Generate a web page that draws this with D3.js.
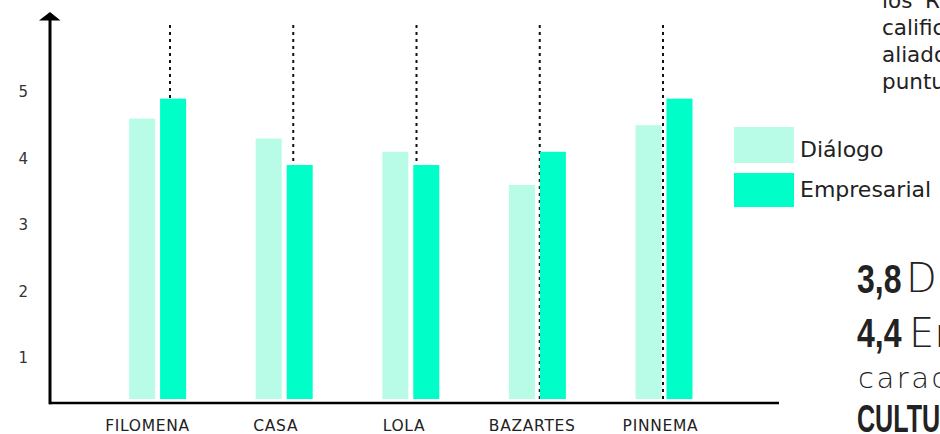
<!DOCTYPE html>
<html>
<head>
<meta charset="utf-8">
<script src="https://cdn.jsdelivr.net/npm/d3@7"></script>
<style>
  html, body { margin: 0; padding: 0; background: #ffffff; }
  svg { display: block; }
</style>
</head>
<body>
<svg id="chart" width="940" height="434"></svg>
<script>
// ---- data ----
const categories = ["FILOMENA", "CASA", "LOLA", "BAZARTES", "PINNEMA"];
const dialogo = [4.6, 4.3, 4.1, 3.6, 4.5];
const empresarial = [4.9, 3.9, 3.9, 4.1, 4.9];
const seriesNames = ["Diálogo", "Empresarial"];
const seriesColors = ["#b8fce8", "#00ffc8"];
const yTicks = [1, 2, 3, 4, 5];
const noteLines = ["los 'Restaurantes", "calificaron", "aliados", "puntuación"];

const W = 940, H = 434;
const svg = d3.select("#chart");
const font = "'DejaVu Sans', sans-serif";

const axisY = 403;      // x axis line
const axisX = 50;       // y axis line
const barBase = axisY - 4;

// scales
const y = d3.scaleLinear().domain([0, 5]).range([424, 92]);
const x = d3.scaleBand().domain(categories).range([94.3, 727.3]).padding(0);
const xInner = d3.scaleBand().domain(seriesNames).range([-28.5, 28.5]).paddingInner(0.16);
const xGuide = d3.scalePoint().domain(categories).range([170, 663]);
const xLabel = d3.scalePoint().domain(categories).range([147, 660]);

// dotted guide lines (behind bars)
svg.append("g").selectAll("line").data(categories).join("line")
  .attr("x1", d => xGuide(d)).attr("x2", d => xGuide(d))
  .attr("y1", 25).attr("y2", axisY)
  .attr("stroke", "#111").attr("stroke-width", 2)
  .attr("stroke-dasharray", "3,4");

// bars
const rows = categories.map((c, i) => ({ c, vals: [dialogo[i], empresarial[i]] }));
const groups = svg.append("g").selectAll("g").data(rows).join("g")
  .attr("transform", d => `translate(${x(d.c) + x.bandwidth() / 2},0)`);
groups.selectAll("rect").data(d => d.vals.map((v, k) => ({ v, s: seriesNames[k], k }))).join("rect")
  .attr("x", d => xInner(d.s))
  .attr("width", xInner.bandwidth())
  .attr("y", d => y(d.v))
  .attr("height", d => barBase - y(d.v))
  .attr("fill", d => seriesColors[d.k]);

// axes lines
svg.append("line").attr("x1", axisX - 1).attr("x2", 779).attr("y1", axisY).attr("y2", axisY)
  .attr("stroke", "#000").attr("stroke-width", 2.5);
svg.append("line").attr("x1", axisX).attr("x2", axisX).attr("y1", axisY + 1.2).attr("y2", 19)
  .attr("stroke", "#000").attr("stroke-width", 3);
svg.append("path").attr("d", `M${axisX},12 L${axisX - 11},20.5 L${axisX + 10.5},20.5 Z`).attr("fill", "#000");

// y tick labels
const yAxis = svg.append("g").attr("transform", "translate(28,0)")
  .call(d3.axisLeft(y).tickValues(yTicks).tickSize(0).tickPadding(0).tickFormat(d3.format("d")));
yAxis.select(".domain").remove();
yAxis.attr("font-family", font).attr("font-size", 15);
yAxis.selectAll("text").attr("fill", "#333");

// x labels
const xAxis = svg.append("g").attr("transform", `translate(0,${axisY})`)
  .call(d3.axisBottom(xLabel).tickSize(0).tickPadding(0));
xAxis.select(".domain").remove();
xAxis.attr("font-family", font).attr("font-size", 15.5);
xAxis.selectAll("text").attr("fill", "#222").attr("dy", null).attr("y", 27.5)
  .attr("letter-spacing", 0.7);

// legend
const leg = svg.append("g");
const legTops = [127, 173];
const legH = [36, 34];
seriesNames.forEach((s, k) => {
  leg.append("rect").attr("x", 734).attr("y", legTops[k]).attr("width", 60).attr("height", legH[k])
    .attr("fill", seriesColors[k]);
  leg.append("text").attr("x", 800).attr("y", [157, 197][k]).text(s)
    .attr("font-family", font).attr("font-size", 22).attr("fill", "#222");
});

// top-right note text
noteLines.forEach((t, i) => {
  svg.append("text").attr("x", 882).attr("y", 8 + i * 27).text(t)
    .attr("font-family", font).attr("font-size", 21.5).attr("fill", "#222");
});

// bottom-right summary
const bold = "'Liberation Sans', Arial, sans-serif";
function boldText(str, tx, ty, size, sx) {
  svg.append("text").attr("transform", `translate(${tx},${ty}) scale(${sx},1)`).text(str)
    .attr("font-family", bold).attr("font-weight", "bold").attr("font-size", size).attr("fill", "#222");
}
function thinText(str, tx, ty, size, ls) {
  svg.append("text").attr("x", tx).attr("y", ty).text(str)
    .attr("font-family", font).attr("font-weight", 200).attr("font-size", size)
    .attr("letter-spacing", ls).attr("fill", "#222");
}
boldText("3,8", 857, 293, 40, 0.8);
thinText("Diálogo", 906, 292, 40, 0);
boldText("4,4", 857, 347, 40, 0.8);
thinText("Empresarial", 909, 347, 40, 0);
thinText("características", 858, 388, 29, 2.5);
boldText("CULTURA", 857, 432, 38, 0.66);
</script>
</body>
</html>
